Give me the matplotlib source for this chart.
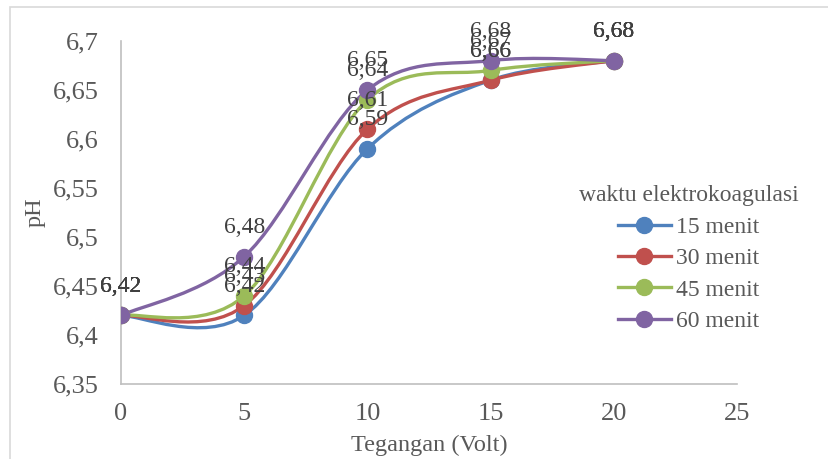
import numpy as np
import matplotlib
matplotlib.use("Agg")
import matplotlib.pyplot as plt
from matplotlib.path import Path
from matplotlib.patches import PathPatch, Rectangle
from matplotlib.lines import Line2D

plt.rcParams['font.family'] = ['Liberation Serif', 'DejaVu Serif']

voltage = [0, 5, 10, 15, 20]
series_names = ["15 menit", "30 menit", "45 menit", "60 menit"]
ph_15 = [6.42, 6.42, 6.59, 6.66, 6.68]
ph_30 = [6.42, 6.43, 6.61, 6.66, 6.68]
ph_45 = [6.42, 6.44, 6.64, 6.67, 6.68]
ph_60 = [6.42, 6.48, 6.65, 6.68, 6.68]
colors = ["#4F81BD", "#C0504D", "#9BBB59", "#8064A2"]
x_ticks = [0, 5, 10, 15, 20, 25]
y_ticks = [6.35, 6.4, 6.45, 6.5, 6.55, 6.6, 6.65, 6.7]

W, H = 829, 459
fig = plt.figure(figsize=(W / 100, H / 100), dpi=100)
fig.patches.append(Rectangle((10 / W, -0.1), 1.2, 1 - 7 / H + 0.1, transform=fig.transFigure,
                             fill=False, edgecolor="#D9D9D9", linewidth=1.2))
ax = fig.add_axes([121 / W, 1 - 384 / H, (737 - 121) / W, (384 - 41) / H])


def smooth_path(xs, ys):
    pts = np.column_stack([xs, ys]).astype(float)
    n = len(pts)
    verts = [pts[0]]
    codes = [Path.MOVETO]
    for i in range(n - 1):
        p0 = pts[i - 1] if i > 0 else pts[i]
        p1 = pts[i]
        p2 = pts[i + 1]
        p3 = pts[i + 2] if i + 2 < n else pts[i + 1]
        c1 = p1 + (p2 - p0) / 6.0
        c2 = p2 - (p3 - p1) / 6.0
        verts += [c1, c2, p2]
        codes += [Path.CURVE4] * 3
    return Path(verts, codes)


all_series = [ph_15, ph_30, ph_45, ph_60]
for name, vals, c in zip(series_names, all_series, colors):
    patch = PathPatch(smooth_path(voltage, vals), facecolor="none", edgecolor=c,
                      linewidth=2.4, capstyle="round", joinstyle="round", zorder=3)
    ax.add_patch(patch)
    ax.plot(voltage, vals, linestyle="none", marker="o", markersize=11.5,
            color=c, zorder=4)
    for xv, yv in zip(voltage, vals):
        ax.annotate(f"{yv:.2f}".replace(".", ","), (xv, yv), xytext=(0, 21),
                    textcoords="offset points", ha="center", va="center",
                    fontsize=17, color="#404040", zorder=5)

ax.set_xlim(0, 25)
ax.set_ylim(6.35, 6.7)
ax.set_xticks(x_ticks)
ax.set_yticks(y_ticks)
ax.set_xticklabels([str(t) for t in x_ticks])
ax.set_yticklabels([f"{t:g}".replace(".", ",") for t in y_ticks])
ax.tick_params(length=0, labelsize=19, labelcolor="#595959")
ax.tick_params(axis="y", pad=16)
ax.tick_params(axis="x", pad=14)
for s in ["top", "right"]:
    ax.spines[s].set_visible(False)
for s in ["left", "bottom"]:
    ax.spines[s].set_color("#BFBFBF")
    ax.spines[s].set_linewidth(1.2)

ax.set_xlabel("Tegangan (Volt)", fontsize=17.5, color="#595959", labelpad=7)
ax.set_ylabel("pH", fontsize=17.5, color="#595959", labelpad=5)

handles = [Line2D([0], [0], color=c, linewidth=2.4, marker="o", markersize=11.5)
           for c in colors]
leg = ax.legend(handles, series_names, title="waktu elektrokoagulasi",
                loc="center left", bbox_to_anchor=(0.716, 0.365), frameon=False,
                fontsize=17, title_fontsize=17, handlelength=2.25,
                handletextpad=0.2, labelspacing=0.42, borderpad=0.2)
for t in leg.get_texts():
    t.set_color("#595959")
leg.get_title().set_color("#595959")

fig.savefig("out.png", dpi=100)
